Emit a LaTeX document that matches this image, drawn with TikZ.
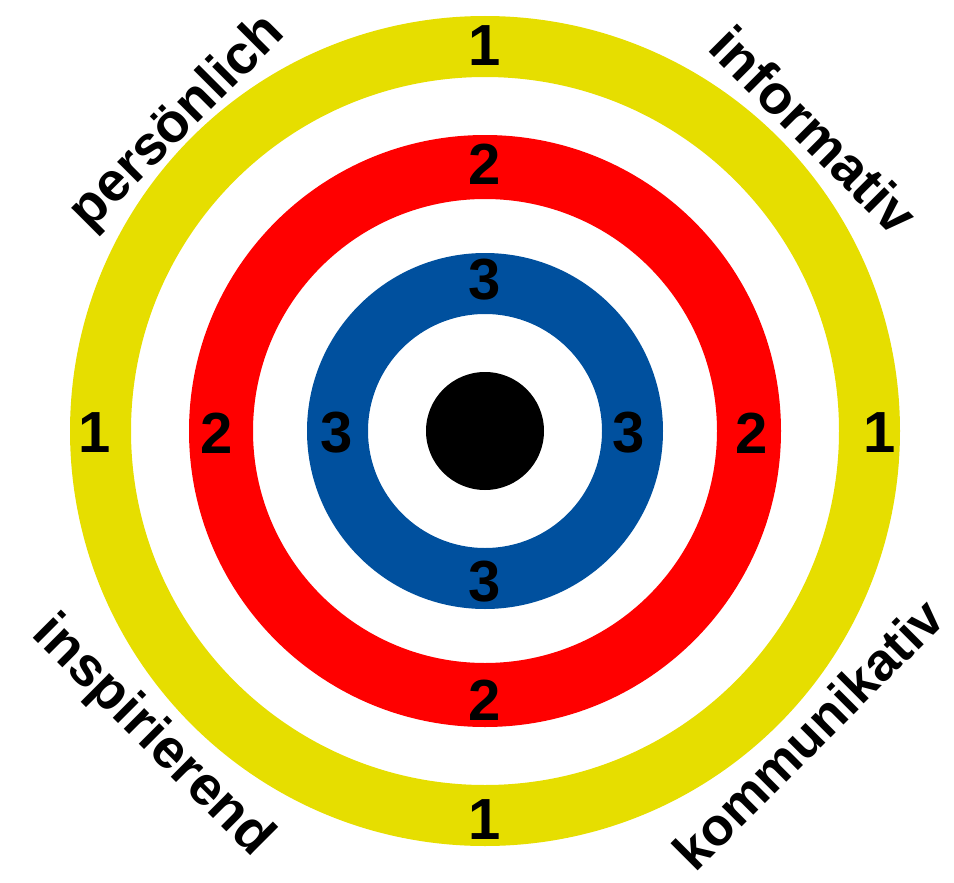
\documentclass[tikz,border=0pt]{standalone}
\usepackage{fontspec}
\setmainfont{Liberation Sans}
\definecolor{ringyellow}{RGB}{230,222,0}
\definecolor{ringred}{RGB}{255,0,0}
\definecolor{ringblue}{RGB}{0,80,158}
\begin{document}
\begin{tikzpicture}[x=1pt,y=-1pt,
  num/.style={font=\fontsize{58}{60}\selectfont\bfseries, inner sep=0pt, text=black},
  lab/.style={font=\fontsize{55}{60}\selectfont\bfseries, inner sep=0pt, text=black}]
\useasboundingbox (0,0) rectangle (954,883);
\coordinate (c) at (485,431);
\fill[ringyellow, even odd rule] (c) circle[radius=415] (c) circle[radius=354];
\fill[ringred, even odd rule] (c) circle[radius=296] (c) circle[radius=232];
\fill[ringblue, even odd rule] (c) circle[radius=178] (c) circle[radius=117];
\fill[black] (c) circle[radius=59];
% ring 1
\node[num] (n1t) at (485,46) {1};
\node[num] (n1b) at (485,820) {1};
\node[num] (n1l) at (95,433) {1};
\node[num] (n1r) at (880,433) {1};
% ring 2
\node[num] (n2t) at (485,164) {2};
\node[num] (n2b) at (485,700) {2};
\node[num] (n2l) at (217,433) {2};
\node[num] (n2r) at (752,433) {2};
% ring 3
\node[num] (n3t) at (485,280) {3};
\node[num] (n3b) at (485,582) {3};
\node[num] (n3l) at (337,433) {3};
\node[num] (n3r) at (629,433) {3};
% labels
\node[lab, rotate=45] (lp) at (178,123) {persönlich};
\node[lab, rotate=-45] (li) at (814,130) {informativ};
\node[lab, rotate=-45] (lin) at (152,737) {inspirierend};
\node[lab, rotate=45, font=\fontsize{53}{60}\selectfont\bfseries] (lk) at (808,734) {kommunikativ};
\end{tikzpicture}
\end{document}
